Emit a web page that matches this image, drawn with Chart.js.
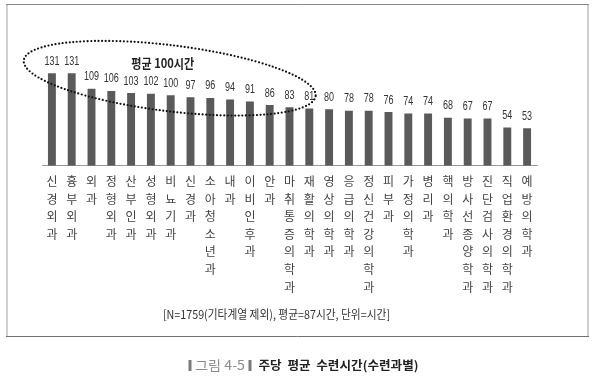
<!DOCTYPE html>
<html><head><meta charset="utf-8">
<script src="https://cdn.jsdelivr.net/npm/chart.js@4"></script>
<style>html,body{margin:0;padding:0;background:#fff;}#wrap{position:relative;width:597px;height:377px;}canvas{display:block}</style>
</head><body><div id="wrap"><canvas id="c" width="597" height="377"></canvas></div>
<script>
const categories = ['신경외과','흉부외과','외과','정형외과','산부인과','성형외과','비뇨기과','신경과','소아청소년과','내과','이비인후과','안과','마취통증의학과','재활의학과','영상의학과','응급의학과','정신건강의학과','피부과','가정의학과','병리과','핵의학과','방사선종양학과','진단검사의학과','직업환경의학과','예방의학과'];
const hours = [131,131,109,106,103,102,100,97,96,94,91,86,83,81,80,78,78,76,74,74,68,67,67,54,53];
const highlightText = '평균 100시간';
const noteText = '[N=1759(기타계열 제외), 평균=87시간, 단위=시간]';
const captionLabel = '그림 4-5';
const captionTitle = '주당  평균  수련시간(수련과별)';
const yMax = 200;

const KR = '"Noto Sans CJK KR","Noto Sans",sans-serif';

function drawFit(ctx, text, cx, cy, width, font, color, align) {
  ctx.save();
  ctx.font = font;
  const w = ctx.measureText(text).width;
  const s = width / w;
  ctx.fillStyle = color;
  ctx.textBaseline = 'middle';
  ctx.textAlign = align || 'center';
  ctx.translate(cx, cy);
  ctx.scale(s, 1);
  ctx.fillText(text, 0, 0);
  ctx.restore();
}

const decor = {
  id: 'decor',
  beforeDraw(chart) {
    const ctx = chart.ctx;
    ctx.save();
    ctx.fillStyle = '#fff';
    ctx.fillRect(0, 0, chart.width, chart.height);
    // frame
    ctx.strokeStyle = '#d0d0d0';
    ctx.lineWidth = 2;
    ctx.beginPath(); ctx.moveTo(7, 4); ctx.lineTo(7, 337); ctx.stroke();
    ctx.beginPath(); ctx.moveTo(588, 4); ctx.lineTo(588, 337); ctx.stroke();
    ctx.strokeStyle = '#8a8a8a';
    ctx.lineWidth = 1;
    ctx.beginPath(); ctx.moveTo(6, 4.5); ctx.lineTo(589, 4.5); ctx.stroke();
    ctx.strokeStyle = '#707070';
    ctx.beginPath(); ctx.moveTo(6, 336.5); ctx.lineTo(589, 336.5); ctx.stroke();
    ctx.restore();
  },
  afterDatasetsDraw(chart) {
    const ctx = chart.ctx;
    const meta = chart.getDatasetMeta(0);
    ctx.save();
    ctx.font = '12.5px "Liberation Sans",Arial,sans-serif';
    ctx.fillStyle = '#333';
    ctx.textAlign = 'center';
    ctx.textBaseline = 'alphabetic';
    meta.data.forEach((bar, i) => {
      ctx.save();
      ctx.translate(bar.x, bar.y - 8.5);
      ctx.scale(0.72, 1);
      ctx.fillText(String(hours[i]), 0, 0);
      ctx.restore();
    });
    ctx.restore();
  },
  afterDraw(chart) {
    const ctx = chart.ctx;
    const xs = chart.scales.x, ys = chart.scales.y;
    // dotted ellipse
    const cx = xs.getPixelForValue(6) - 1;
    const cy = ys.getPixelForValue(124);
    ctx.save();
    ctx.strokeStyle = '#111';
    ctx.lineWidth = 2.2;
    ctx.lineCap = 'round';
    ctx.setLineDash([0, 3.6]);
    ctx.beginPath();
    ctx.ellipse(cx, cy, 147, 33, 7 * Math.PI / 180, 0, Math.PI * 2);
    ctx.stroke();
    ctx.restore();
    // highlight text
    drawFit(ctx, highlightText, xs.getPixelForValue(5.6), ys.getPixelForValue(146), 63, 'bold 13px ' + KR, '#222');
    // note
    drawFit(ctx, noteText, 276.5, 314, 227, '12px ' + KR, '#333');
    // caption
    ctx.save();
    ctx.fillStyle = '#7a7a7a';
    ctx.fillRect(188.5, 360, 3, 11);
    ctx.fillRect(248.5, 360, 3, 11);
    ctx.restore();
    drawFit(ctx, captionLabel, 195, 365.5, 50, '13px ' + KR, '#8c8c8c', 'left');
    drawFit(ctx, captionTitle, 258.5, 365.5, 160, 'bold 12px ' + KR, '#222', 'left');
  }
};

new Chart(document.getElementById('c'), {
  type: 'bar',
  data: {
    labels: categories,
    datasets: [{
      data: hours,
      backgroundColor: '#5a5a5a',
      borderWidth: 0,
      barPercentage: 0.4,
      categoryPercentage: 1.0
    }]
  },
  options: {
    responsive: false,
    devicePixelRatio: 1,
    animation: false,
    layout: { padding: { left: 42, right: 60, top: 24.6, bottom: 0 } },
    plugins: { legend: { display: false }, tooltip: { enabled: false } },
    scales: {
      y: { display: false, min: 0, max: yMax },
      x: {
        grid: { display: false, drawTicks: false },
        border: { display: true, color: '#9a9a9a', width: 1 },
        afterFit(scale) { scale.height = 211.3; },
        ticks: {
          autoSkip: false, maxRotation: 0, minRotation: 0, padding: 7,
          color: '#444',
          font: { family: KR, size: 12, lineHeight: '17.6px' },
          callback(v, i) { return Array.from(categories[i]); }
        }
      }
    }
  },
  plugins: [decor]
});
</script></body></html>
